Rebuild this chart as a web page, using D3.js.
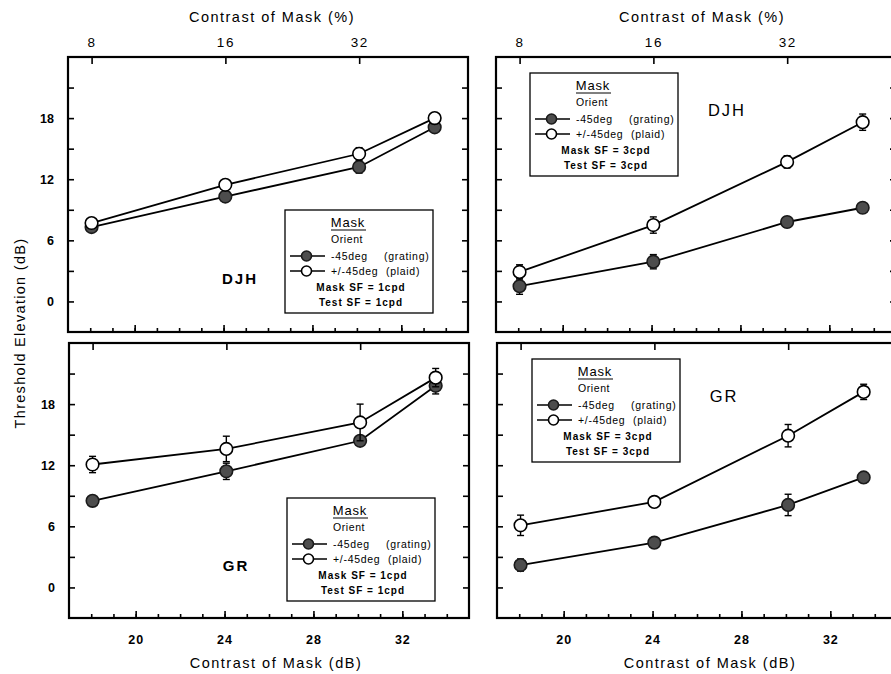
<!DOCTYPE html>
<html>
<head>
<meta charset="utf-8">
<script src="https://cdn.jsdelivr.net/npm/d3@7"></script>
<style>
  body { margin: 0; background: #fff; }
  svg { display: block; font-family: "Liberation Sans", Arial, sans-serif; }
</style>
</head>
<body>
<svg id="chart"></svg>
<script>
// mask contrast of the four points, in dB (20*log10 of percent)
const maskDb = [18.06, 24.08, 30.1, 33.5]
const pctTicks = [8, 16, 32]
const dbTicks = [20, 24, 28, 32]
const yLabels = [0, 6, 12, 18]

// DJH, 1 cpd
const djh1Grating = [7.3, 10.3, 13.2, 17.1]
const djh1GratingErr = [0.4, 0.4, 0.6, 0.4]
const djh1Plaid = [7.7, 11.45, 14.5, 18.0]
const djh1PlaidErr = [0.3, 0.3, 0.6, 0.3]
// DJH, 3 cpd
const djh3Grating = [1.5, 3.9, 7.8, 9.2]
const djh3GratingErr = [0.8, 0.7, 0.5, 0.3]
const djh3Plaid = [2.9, 7.5, 13.7, 17.6]
const djh3PlaidErr = [0.7, 0.8, 0.6, 0.8]
// GR, 1 cpd
const gr1Grating = [8.5, 11.4, 14.4, 19.8]
const gr1GratingErr = [0.3, 0.8, 0.4, 0.8]
const gr1Plaid = [12.07, 13.6, 16.2, 20.6]
const gr1PlaidErr = [0.8, 1.25, 1.8, 0.9]
// GR, 3 cpd
const gr3Grating = [2.2, 4.4, 8.1, 10.8]
const gr3GratingErr = [0.6, 0.3, 1.05, 0.4]
const gr3Plaid = [6.1, 8.4, 14.9, 19.2]
const gr3PlaidErr = [1.0, 0.3, 1.1, 0.75]

const width = 891
const height = 674
const pw = 400
const ph = 275

let svg = d3.select('#chart').attr('width', width).attr('height', height)

// панели: положение, подписи, легенда
const panels = [
  { x: 68, y: 57, subject: 'DJH', sf: '1cpd', grating: djh1Grating, gErr: djh1GratingErr, plaid: djh1Plaid, pErr: djh1PlaidErr,
    top: true, left: true, legend: [217, 153], label: [172, 222], bold: true },
  { x: 496, y: 57, subject: 'DJH', sf: '3cpd', grating: djh3Grating, gErr: djh3GratingErr, plaid: djh3Plaid, pErr: djh3PlaidErr,
    top: true, left: false, legend: [34, 16], label: [231, 53], bold: false },
  { x: 69, y: 343, subject: 'GR', sf: '1cpd', grating: gr1Grating, gErr: gr1GratingErr, plaid: gr1Plaid, pErr: gr1PlaidErr,
    top: false, left: true, legend: [218, 155], label: [167, 223], bold: true },
  { x: 497, y: 343, subject: 'GR', sf: '3cpd', grating: gr3Grating, gErr: gr3GratingErr, plaid: gr3Plaid, pErr: gr3PlaidErr,
    top: false, left: false, legend: [35, 16], label: [227, 53], bold: false }
]

function marker (g, cx, cy, filled, r) {
  g.append('circle')
    .attr('cx', cx).attr('cy', cy).attr('r', r)
    .attr('fill', filled ? '#4d4d4d' : '#fff')
    .attr('stroke', filled ? '#1a1a1a' : '#000')
    .attr('stroke-width', 1.6)
}

function drawPanel (p) {
  const g = svg.append('g').attr('transform', `translate(${p.x}, ${p.y})`)
  const scX = d3.scaleLinear().domain([17, 35]).range([0, pw])
  const scY = d3.scaleLinear().domain([-3, 24]).range([ph, 0])

  // оси: все засечки внутрь
  const yTicks = d3.range(0, 24, 3)
  const axL = g.append('g')
    .call(d3.axisLeft(scY).tickValues(yTicks).tickSize(-6).tickPadding(14)
      .tickFormat(d => (p.left && yLabels.includes(d)) ? d : ''))
  const axR = g.append('g').attr('transform', `translate(${pw}, 0)`)
    .call(d3.axisRight(scY).tickValues(yTicks).tickSize(-6).tickFormat(''))

  g.append('g').attr('transform', `translate(0, ${ph})`)
    .call(d3.axisBottom(scX).tickValues(d3.range(18, 35)).tickSize(-4).tickFormat(''))
  const axB = g.append('g').attr('transform', `translate(0, ${ph})`)
    .call(d3.axisBottom(scX).tickValues(dbTicks).tickSize(-7).tickPadding(17)
      .tickFormat(d => p.top ? '' : d))

  const axT = g.append('g')
    .call(d3.axisTop(scX).tickValues(pctTicks.map(v => 20 * Math.log10(v))).tickSize(-7).tickPadding(10)
      .tickFormat((d, i) => p.top ? pctTicks[i] : ''))

  g.selectAll('.domain').remove()
  g.selectAll('.tick line').attr('stroke', '#000').attr('stroke-width', 1.6)
  axL.selectAll('text').attr('font-size', 12.5).attr('font-weight', 'bold').attr('fill', '#000')
  axB.selectAll('text').attr('font-size', 12.5).attr('font-weight', 'bold').attr('fill', '#000').attr('letter-spacing', 1)
  axT.selectAll('text').attr('font-size', 13.5).attr('fill', '#000').attr('letter-spacing', 1.5)

  g.append('rect').attr('width', pw).attr('height', ph)
    .attr('fill', 'none').attr('stroke', '#000').attr('stroke-width', 2.2)

  // линии, планки погрешностей и точки
  const line = d3.line().x((d, i) => scX(maskDb[i])).y(d => scY(d))
  const series = [
    { vals: p.grating, err: p.gErr, filled: true },
    { vals: p.plaid, err: p.pErr, filled: false }
  ]
  series.forEach(s => {
    g.append('path').datum(s.vals).attr('d', line)
      .attr('fill', 'none').attr('stroke', '#000').attr('stroke-width', 1.8)
  })
  series.forEach(s => {
    s.vals.forEach((v, i) => {
      const cx = scX(maskDb[i])
      const y0 = scY(v - s.err[i])
      const y1 = scY(v + s.err[i])
      g.append('line').attr('x1', cx).attr('x2', cx).attr('y1', y0).attr('y2', y1)
        .attr('stroke', '#000').attr('stroke-width', 1.4)
      ;[y0, y1].forEach(yy => {
        g.append('line').attr('x1', cx - 3.5).attr('x2', cx + 3.5).attr('y1', yy).attr('y2', yy)
          .attr('stroke', '#000').attr('stroke-width', 1.4)
      })
      marker(g, cx, scY(v), s.filled, 6.3)
    })
  })

  // подпись испытуемого
  g.append('text').attr('x', p.label[0]).attr('y', p.label[1]).attr('text-anchor', 'middle')
    .attr('font-size', p.bold ? 15 : 16.5).attr('font-weight', p.bold ? 'bold' : 'normal')
    .attr('letter-spacing', 2).attr('dy', '0.36em').text(p.subject)

  // легенда
  const lg = g.append('g').attr('transform', `translate(${p.legend[0]}, ${p.legend[1]})`)
  lg.append('rect').attr('width', 148).attr('height', 103)
    .attr('fill', '#fff').attr('stroke', '#000').attr('stroke-width', 1.3)
  lg.append('text').attr('x', 63).attr('y', 17).attr('text-anchor', 'middle')
    .attr('font-size', 13).attr('letter-spacing', 0.8).text('Mask')
  lg.append('line').attr('x1', 46).attr('x2', 81).attr('y1', 20).attr('y2', 20)
    .attr('stroke', '#000').attr('stroke-width', 1)
  lg.append('text').attr('x', 62).attr('y', 33).attr('text-anchor', 'middle')
    .attr('font-size', 10.5).attr('letter-spacing', 0.6).text('Orient')
  const rows = [
    { y: 46, filled: true, a: '-45deg', b: '(grating)' },
    { y: 61, filled: false, a: '+/-45deg', b: '(plaid)' }
  ]
  rows.forEach(r => {
    lg.append('line').attr('x1', 5).attr('x2', 40).attr('y1', r.y).attr('y2', r.y)
      .attr('stroke', '#000').attr('stroke-width', 1.5)
    marker(lg, 21.5, r.y, r.filled, 5)
    lg.append('text').attr('x', 46).attr('y', r.y + 4).attr('font-size', 10.5)
      .attr('letter-spacing', 0.7).text(r.a)
    lg.append('text').attr('x', r.filled ? 99 : 101).attr('y', r.y + 4).attr('font-size', 10.5)
      .attr('letter-spacing', 0.7).text(r.b)
  })
  lg.append('text').attr('x', 76).attr('y', 81).attr('text-anchor', 'middle')
    .attr('font-size', 10).attr('font-weight', 'bold').attr('letter-spacing', 1).text('Mask SF = ' + p.sf)
  lg.append('text').attr('x', 76).attr('y', 96).attr('text-anchor', 'middle')
    .attr('font-size', 10).attr('font-weight', 'bold').attr('letter-spacing', 1).text('Test SF = ' + p.sf)
}

panels.forEach(drawPanel)

// заголовки осей
;[272, 702].forEach(cx => {
  svg.append('text').attr('x', cx).attr('y', 22).attr('text-anchor', 'middle')
    .attr('font-size', 14.5).attr('letter-spacing', 1.5).text('Contrast of Mask (%)')
})
;[276, 710].forEach(cx => {
  svg.append('text').attr('x', cx).attr('y', 668).attr('text-anchor', 'middle')
    .attr('font-size', 14.5).attr('letter-spacing', 1.5).text('Contrast of Mask (dB)')
})
svg.append('text').attr('transform', 'translate(25, 333) rotate(-90)').attr('text-anchor', 'middle')
  .attr('font-size', 14.5).attr('letter-spacing', 1.3).text('Threshold Elevation (dB)')
</script>
</body>
</html>
